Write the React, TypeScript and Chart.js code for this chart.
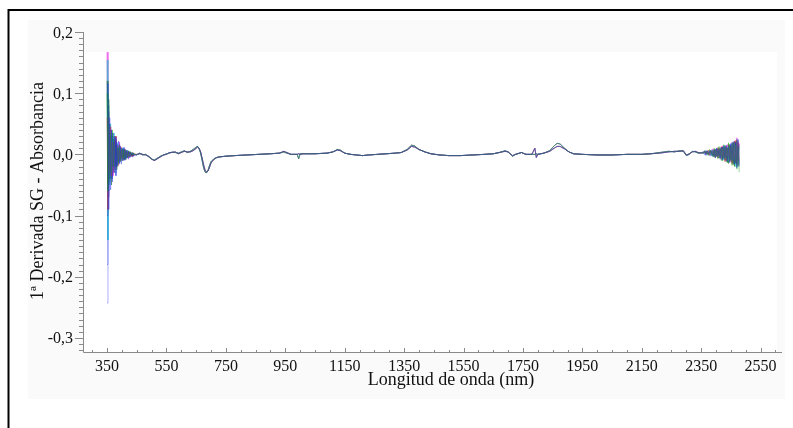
import React, { useEffect, useRef } from "react";
import { Chart, registerables } from "chart.js";

Chart.register(...registerables);

// Wavelength grids (nm): noisy start, smooth body, noisy end
const HEAD_NM = [350, 353, 356, 359, 362, 365, 368, 371, 374, 377, 380, 383, 386, 389, 392, 395, 398, 401, 404, 407, 410, 413, 416, 419, 422, 425, 428, 431, 434, 437, 440];

const BODY_NM = [450, 460, 470, 480, 490, 500, 505, 510, 520, 530, 540, 550, 560, 570, 580, 590, 600, 610, 620, 630, 640, 650, 655, 660, 665, 670, 675, 680, 685, 690, 695, 700, 710, 720, 730, 750, 780, 820, 860, 900, 930, 945, 955, 970, 990, 995, 1000, 1010, 1050, 1090, 1110, 1125, 1135, 1150, 1170, 1190, 1210, 1230, 1260, 1290, 1320, 1340, 1360, 1375, 1385, 1400, 1420, 1440, 1470, 1500, 1540, 1580, 1620, 1650, 1670, 1690, 1700, 1715, 1725, 1745, 1760, 1780, 1790, 1795, 1800, 1820, 1840, 1855, 1865, 1875, 1890, 1905, 1920, 1950, 2000, 2050, 2100, 2150, 2180, 2210, 2240, 2260, 2280, 2290, 2300, 2310, 2320, 2330, 2340, 2350];

const TAIL_NM = [2358, 2362, 2366, 2370, 2374, 2378, 2382, 2386, 2390, 2394, 2398, 2402, 2406, 2410, 2414, 2418, 2422, 2426, 2430, 2434, 2438, 2442, 2446, 2450, 2454, 2458, 2462, 2466, 2470, 2474, 2478];

// Smooth part of the derivative spectra (two groups of samples)
const BODY_A = [-0.001, 0.002, -0.001, 0.0, -0.004, -0.008, -0.009, -0.009, -0.006, -0.003, -0.001, 0.001, 0.002, 0.004, 0.003, 0.002, 0.004, 0.006, 0.003, 0.005, 0.008, 0.012, 0.013, 0.009, 0.002, -0.01, -0.022, -0.029, -0.03, -0.026, -0.018, -0.012, -0.007, -0.005, -0.004, -0.003, -0.002, -0.001, 0.0, 0.001, 0.002, 0.004, 0.002, 0.0, 0.0, -0.007, 0.001, 0.001, 0.001, 0.002, 0.004, 0.008, 0.007, 0.002, 0.0, -0.001, -0.002, -0.001, 0.0, 0.001, 0.002, 0.003, 0.008, 0.015, 0.014, 0.008, 0.004, 0.001, -0.001, -0.002, -0.002, -0.001, 0.0, 0.001, 0.003, 0.006, 0.004, -0.003, 0.0, 0.003, 0.0, 0.0, 0.0, 0.001, 0.0, 0.002, 0.006, 0.014, 0.018, 0.017, 0.01, 0.004, 0.001, 0.0, -0.001, -0.001, 0.0, 0.0, 0.001, 0.003, 0.005, 0.004, 0.006, 0.005, -0.002, 0.0, 0.005, 0.004, 0.002, 0.003];

const BODY_B = [0.0, 0.001, 0.0, -0.001, -0.003, -0.007, -0.009, -0.01, -0.007, -0.004, -0.001, 0.0, 0.003, 0.003, 0.004, 0.001, 0.003, 0.005, 0.004, 0.004, 0.006, 0.01, 0.012, 0.01, 0.004, -0.006, -0.017, -0.026, -0.029, -0.027, -0.021, -0.014, -0.008, -0.005, -0.004, -0.003, -0.002, -0.001, 0.0, 0.001, 0.002, 0.005, 0.003, 0.0, 0.0, 0.001, 0.0, 0.001, 0.001, 0.002, 0.004, 0.007, 0.006, 0.002, 0.0, -0.001, -0.002, -0.001, 0.0, 0.001, 0.002, 0.003, 0.007, 0.013, 0.012, 0.008, 0.004, 0.001, -0.001, -0.002, -0.002, -0.001, 0.0, 0.001, 0.003, 0.005, 0.004, -0.002, 0.0, 0.003, 0.0, 0.0, 0.01, -0.005, 0.0, 0.002, 0.005, 0.01, 0.013, 0.013, 0.009, 0.004, 0.001, 0.0, -0.001, -0.001, 0.0, 0.0, 0.001, 0.002, 0.004, 0.005, 0.005, 0.006, -0.001, 0.001, 0.004, 0.005, 0.003, 0.002];

// Noisy starts, one per sample
const HEAD_0 = [0.167, -0.04, 0.07, -0.03, 0.045, -0.02, 0.03, -0.035, 0.02, -0.015, 0.025, -0.018, 0.015, -0.01, 0.02, -0.012, 0.008, -0.01, 0.01, -0.006, 0.008, -0.008, 0.006, -0.005, 0.004, -0.006, 0.003, -0.002, 0.003, -0.003, 0.0];
const HEAD_1 = [-0.243, 0.05, -0.06, 0.03, -0.04, 0.03, -0.02, 0.025, -0.03, 0.015, -0.02, 0.018, -0.012, 0.01, -0.015, 0.01, -0.008, 0.006, -0.01, 0.007, -0.005, 0.006, -0.007, 0.004, -0.003, 0.005, -0.004, 0.002, -0.003, 0.001, -0.001];
const HEAD_2 = [-0.18, 0.116, -0.09, 0.06, -0.058, 0.04, -0.045, 0.035, -0.03, 0.028, -0.035, 0.02, -0.018, 0.022, -0.015, 0.012, -0.016, 0.011, -0.009, 0.012, -0.01, 0.008, -0.006, 0.007, -0.008, 0.004, -0.005, 0.003, -0.004, 0.002, -0.002];
const HEAD_3 = [0.154, -0.14, 0.08, -0.05, 0.05, -0.04, 0.03, -0.025, 0.035, -0.02, 0.02, -0.015, 0.018, -0.012, 0.012, -0.01, 0.009, -0.008, 0.01, -0.006, 0.005, -0.007, 0.006, -0.004, 0.005, -0.003, 0.004, -0.003, 0.002, -0.002, 0.0];
const HEAD_4 = [0.1, -0.06, 0.05, -0.045, 0.035, -0.03, 0.04, -0.02, 0.025, -0.03, 0.015, -0.02, 0.012, -0.015, 0.01, -0.012, 0.01, -0.006, 0.008, -0.009, 0.006, -0.005, 0.007, -0.006, 0.003, -0.004, 0.005, -0.002, 0.003, -0.001, 0.001];
const HEAD_5 = [0.06, -0.09, 0.04, -0.03, 0.045, -0.035, 0.02, -0.03, 0.02, -0.025, 0.03, -0.012, 0.015, -0.018, 0.008, -0.01, 0.012, -0.007, 0.006, -0.008, 0.009, -0.004, 0.005, -0.006, 0.004, -0.005, 0.003, -0.004, 0.001, -0.003, 0.0];
const HEAD_6 = [0.12, -0.05, 0.09, -0.04, 0.03, -0.05, 0.035, -0.02, 0.03, -0.018, 0.022, -0.025, 0.01, -0.012, 0.016, -0.008, 0.007, -0.011, 0.008, -0.005, 0.007, -0.009, 0.004, -0.005, 0.006, -0.002, 0.004, -0.003, 0.002, -0.002, 0.001];
const HEAD_7 = [-0.1, 0.08, -0.07, 0.05, -0.03, 0.04, -0.04, 0.02, -0.025, 0.03, -0.02, 0.014, -0.02, 0.01, -0.012, 0.014, -0.006, 0.009, -0.007, 0.005, -0.008, 0.006, -0.004, 0.005, -0.005, 0.004, -0.002, 0.003, -0.002, 0.002, -0.001];

// Noisy ends, one per sample
const TAIL_0 = [0.003, 0.006, 0.0, 0.005, -0.001, 0.007, 0.001, 0.004, 0.009, -0.003, 0.008, -0.004, 0.011, -0.002, 0.01, -0.006, 0.014, -0.008, 0.012, -0.01, 0.016, -0.007, 0.015, -0.012, 0.02, -0.014, 0.022, -0.016, 0.027, -0.012, 0.018];
const TAIL_1 = [0.005, -0.001, 0.006, 0.001, 0.004, -0.002, 0.006, 0.0, -0.004, 0.008, -0.002, 0.009, -0.005, 0.01, -0.004, 0.012, -0.008, 0.013, -0.01, 0.012, -0.012, 0.015, -0.01, 0.017, -0.013, 0.019, -0.018, 0.02, -0.02, 0.018, -0.015];
const TAIL_2 = [0.002, 0.005, -0.002, 0.006, 0.002, 0.005, -0.003, 0.008, -0.002, 0.007, -0.006, 0.01, -0.003, 0.008, -0.007, 0.011, -0.009, 0.014, -0.006, 0.015, -0.011, 0.013, -0.014, 0.018, -0.01, 0.021, -0.016, 0.02, -0.022, 0.025, -0.02];
const TAIL_3 = [0.004, 0.001, 0.006, -0.001, 0.005, 0.002, 0.006, -0.002, 0.007, -0.003, 0.009, -0.002, 0.006, -0.006, 0.012, -0.005, 0.01, -0.009, 0.015, -0.007, 0.012, -0.013, 0.016, -0.009, 0.019, -0.015, 0.017, -0.02, 0.022, -0.018, 0.012];
const TAIL_4 = [0.001, 0.006, 0.002, 0.004, -0.002, 0.008, 0.0, 0.005, -0.004, 0.01, -0.005, 0.006, -0.007, 0.013, -0.004, 0.009, -0.011, 0.016, -0.008, 0.011, -0.014, 0.019, -0.012, 0.014, -0.018, 0.02, -0.02, 0.016, -0.024, 0.012, -0.029];
const TAIL_5 = [0.004, 0.002, 0.005, 0.0, 0.007, -0.001, 0.004, 0.006, -0.001, 0.009, -0.004, 0.007, -0.006, 0.011, -0.005, 0.013, -0.007, 0.01, -0.012, 0.014, -0.009, 0.017, -0.011, 0.013, -0.016, 0.018, -0.013, 0.023, -0.017, 0.02, -0.01];
const TAIL_6 = [0.003, 0.005, 0.001, 0.006, 0.0, 0.004, 0.007, -0.002, 0.006, -0.005, 0.008, -0.003, 0.01, -0.006, 0.009, -0.01, 0.012, -0.006, 0.014, -0.012, 0.01, -0.015, 0.016, -0.01, 0.018, -0.017, 0.021, -0.014, 0.024, -0.02, 0.016];
const TAIL_7 = [0.002, 0.004, 0.0, 0.005, 0.003, -0.001, 0.006, 0.002, -0.003, 0.007, -0.005, 0.01, -0.002, 0.009, -0.008, 0.012, -0.006, 0.011, -0.01, 0.013, -0.013, 0.012, -0.009, 0.016, -0.014, 0.015, -0.019, 0.021, -0.015, 0.023, -0.018];

// Chart.js paints dataset 0 on top, so the list runs from top to bottom
const HEADS = [HEAD_2, HEAD_4, HEAD_5, HEAD_7, HEAD_6, HEAD_3, HEAD_1, HEAD_0];
const TAILS = [TAIL_2, TAIL_4, TAIL_5, TAIL_7, TAIL_6, TAIL_3, TAIL_1, TAIL_0];
const BODIES = [BODY_B, BODY_A, BODY_B, BODY_A, BODY_B, BODY_A, BODY_B, BODY_A];
const COLORS = [
  "rgba(30,50,240,0.4)",
  "rgba(20,170,20,0.45)",
  "rgba(225,30,30,0.4)",
  "rgba(90,40,140,0.4)",
  "rgba(20,100,30,0.45)",
  "rgba(20,200,200,0.5)",
  "rgba(140,140,255,0.7)",
  "rgba(230,70,230,0.7)",
];

const X_MIN = 269;
const X_MAX = 2622;
const Y_MIN = -0.323;
const Y_MAX = 0.2;
const X_MAJOR = [350, 550, 750, 950, 1150, 1350, 1550, 1750, 1950, 2150, 2350, 2550];
const Y_MAJOR = [0.2, 0.1, 0.0, -0.1, -0.2, -0.3];
const Y_LABELS = ["0,2", "0,1", "0,0", "-0,1", "-0,2", "-0,3"];
const X_TITLE = "Longitud de onda (nm)";
const Y_TITLE = "1ª Derivada SG - Absorbancia";
const FONT_FAMILY = '"Liberation Serif", "Times New Roman", serif';

const ALL_NM = [...HEAD_NM, ...BODY_NM, ...TAIL_NM];

const framePlugin = {
  id: "frame",
  beforeDraw(chart: any) {
    const { ctx, width, height, chartArea } = chart;
    ctx.save();
    ctx.fillStyle = "#ffffff";
    ctx.fillRect(0, 0, width, height);
    // light panel behind the figure
    ctx.fillStyle = "#fafafa";
    ctx.fillRect(28, 20, 757, 379);
    ctx.fillStyle = "#ffffff";
    ctx.fillRect(chartArea.left + 1, 52, 777 - chartArea.left - 1, chartArea.bottom - 52);
    // outer frame (top and left edges)
    ctx.strokeStyle = "#000000";
    ctx.lineWidth = 2;
    ctx.beginPath();
    ctx.moveTo(8.5, height + 2);
    ctx.lineTo(8.5, 10);
    ctx.lineTo(width + 2, 10);
    ctx.stroke();
    ctx.restore();
  },
  afterDraw(chart: any) {
    const { ctx, chartArea, scales } = chart;
    const xs = scales.x;
    const ys = scales.y;
    const left = chartArea.left;
    const bottom = chartArea.bottom;
    ctx.save();
    ctx.strokeStyle = "#8a8a8a";
    ctx.lineWidth = 1;
    ctx.beginPath();
    ctx.moveTo(left + 0.5, chartArea.top);
    ctx.lineTo(left + 0.5, bottom + 0.5);
    ctx.lineTo(chartArea.right, bottom + 0.5);
    ctx.stroke();

    // y ticks: minor every 0.01, major every 0.1
    ctx.beginPath();
    for (let k = -32; k <= 20; k++) {
      const v = k / 100;
      const y = Math.round(ys.getPixelForValue(v)) + 0.5;
      const major = k % 10 === 0;
      ctx.moveTo(left - (major ? 8 : 4), y);
      ctx.lineTo(left, y);
    }
    // x ticks: minor every 50, major every 200 starting at 350
    for (let nm = 300; nm <= 2600; nm += 50) {
      const x = Math.round(xs.getPixelForValue(nm)) + 0.5;
      const major = (nm - 350) % 200 === 0;
      ctx.moveTo(x, bottom);
      ctx.lineTo(x, bottom - (major ? 4 : 2));
    }
    ctx.stroke();

    ctx.fillStyle = "#111111";
    ctx.font = `16px ${FONT_FAMILY}`;
    ctx.textAlign = "right";
    ctx.textBaseline = "alphabetic";
    Y_MAJOR.forEach((v, i) => {
      ctx.fillText(Y_LABELS[i], left - 10, ys.getPixelForValue(v) + 5.5);
    });
    ctx.textAlign = "center";
    X_MAJOR.forEach((nm) => {
      ctx.fillText(String(nm), xs.getPixelForValue(nm), 371);
    });

    ctx.font = `18px ${FONT_FAMILY}`;
    ctx.fillText(X_TITLE, 451, 385);
    ctx.translate(43, 191);
    ctx.rotate(-Math.PI / 2);
    ctx.fillText(Y_TITLE, 0, 0);
    ctx.restore();
  },
};

export default function App() {
  const canvasRef = useRef<HTMLCanvasElement | null>(null);

  useEffect(() => {
    document.body.style.margin = "0";
    const canvas = canvasRef.current;
    if (!canvas) return;
    const datasets = COLORS.map((color, i) => {
      const ys = [...HEADS[i], ...BODIES[i], ...TAILS[i]];
      return {
        label: `Muestra ${i + 1}`,
        data: ALL_NM.map((nm, j) => ({ x: nm, y: ys[j] })),
        borderColor: color,
        borderWidth: 1,
        pointRadius: 0,
        tension: 0,
        fill: false,
      };
    });
    const chart = new Chart(canvas, {
      type: "line",
      data: { datasets },
      options: {
        animation: false,
        responsive: false,
        devicePixelRatio: 1,
        layout: { padding: { left: 83, top: 32, right: 11, bottom: 76 } },
        plugins: { legend: { display: false }, tooltip: { enabled: false } },
        scales: {
          x: { type: "linear", min: X_MIN, max: X_MAX, display: false },
          y: { type: "linear", min: Y_MIN, max: Y_MAX, display: false },
        },
      },
      plugins: [framePlugin],
    });
    return () => chart.destroy();
  }, []);

  return (
    <div style={{ position: "fixed", left: 0, top: 0, width: 793, height: 428 }}>
      <canvas ref={canvasRef} width={793} height={428} style={{ width: 793, height: 428, display: "block" }} />
    </div>
  );
}
